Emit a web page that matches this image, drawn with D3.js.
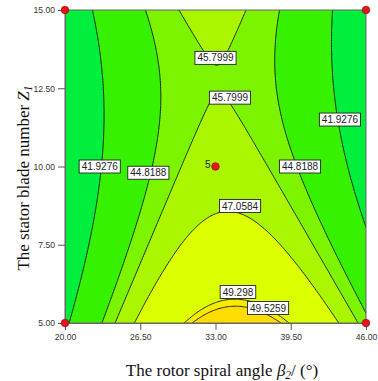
<!DOCTYPE html>
<html><head><meta charset="utf-8">
<script src="https://cdn.jsdelivr.net/npm/d3@7"></script>
<style>body{margin:0;background:#fff}</style>
</head><body><svg id="c" width="378" height="381"></svg>
<script>
// ---- data ----
const xTicks = [20, 26.5, 33, 39.5, 46];
const yTicks = [5, 7.5, 10, 12.5, 15];
// quadratic response-surface model in coded units (A = rotor angle, B = blade number)
const coefTerms = ["1", "A", "B", "AB", "A2", "B2"];
const coefValues = [46.32, 0.792, -1.922, -1.056, -6.6, 1.727];
const levels = [41.9276, 44.8188, 45.7999, 47.0584, 49.298, 49.5259];
const bandColors = ["#00ee3c", "#36f200", "#7cf400", "#aaf600", "#dcff00", "#f6ea00", "#ffdc00"];
const labelLevels = [41.9276, 41.9276, 44.8188, 44.8188, 45.7999, 45.7999, 47.0584, 49.298, 49.5259];
const labelX = [23.0, 43.75, 27.2, 40.3, 33.0, 34.25, 35.12, 34.94, 37.54];
const labelY = [10.0, 11.5, 9.8, 10.0, 13.47, 12.2, 8.74, 5.99, 5.48];
const designX = [20, 20, 46, 46, 33];
const designY = [5, 15, 5, 15, 10];
const designLabel = ["", "", "", "", "5"];

// ---- layout ----
const svg = d3.select("#c");
const L = 65, R = 366, T = 10, B = 323;
const x = d3.scaleLinear([20, 46], [L, R]);
const y = d3.scaleLinear([5, 15], [B, T]);

function model(xv, yv) {
  const a = (xv - 33) / 13, b = (yv - 10) / 5;
  const terms = [1, a, b, a * b, a * a, b * b];
  return d3.sum(terms, (t, i) => t * coefValues[i]);
}

const x0 = 19, x1 = 47, y0 = 4.7, y1 = 15.3;
const nx = 281, ny = 213;
const dx = (x1 - x0) / (nx - 1), dy = (y1 - y0) / (ny - 1);
const values = new Array(nx * ny);
for (let j = 0; j < ny; j++) for (let i = 0; i < nx; i++)
  values[j * nx + i] = model(x0 + i * dx, y0 + j * dy);

const contours = d3.contours().size([nx, ny]).thresholds(levels)(values);
const proj = d3.geoTransform({
  point(px, py) { this.stream.point(x(x0 + (px - 0.5) * dx), y(y0 + (py - 0.5) * dy)); }
});
const path = d3.geoPath(proj);

svg.append("defs").append("clipPath").attr("id", "clip")
  .append("rect").attr("x", L).attr("y", T).attr("width", R - L).attr("height", B - T);

const plot = svg.append("g").attr("clip-path", "url(#clip)");
plot.append("rect").attr("x", L).attr("y", T).attr("width", R - L).attr("height", B - T)
  .attr("fill", bandColors[0]);
plot.selectAll("path.band").data(contours).join("path").attr("class", "band")
  .attr("d", path).attr("fill", (d, i) => bandColors[i + 1]).attr("stroke", "none");
plot.selectAll("path.line").data(contours).join("path").attr("class", "line")
  .attr("d", path).attr("fill", "none").attr("stroke", "#111").attr("stroke-width", 0.9);

// frame
svg.append("rect").attr("x", L).attr("y", T).attr("width", R - L).attr("height", B - T)
  .attr("fill", "none").attr("stroke", "#666").attr("stroke-width", 1);

// axes
const fmt = d3.format(".2f");
const gx = svg.append("g").attr("transform", `translate(0,${B})`)
  .call(d3.axisBottom(x).tickValues(xTicks).tickFormat(fmt).tickSize(7).tickSizeOuter(0).tickPadding(4));
const gy = svg.append("g").attr("transform", `translate(${L},0)`)
  .call(d3.axisLeft(y).tickValues(yTicks).tickFormat(fmt).tickSize(7).tickSizeOuter(0).tickPadding(3));
[gx, gy].forEach(g => {
  g.selectAll("text").attr("font-family", "Arial, 'Liberation Sans', sans-serif")
    .attr("font-size", 8.6).attr("fill", "#333");
  g.selectAll("line").attr("stroke", "#555");
  g.select(".domain").attr("stroke", "#666");
});

// contour labels
const lab = svg.append("g").attr("font-family", "Arial, 'Liberation Sans', sans-serif").attr("font-size", 10);
labelLevels.forEach((v, i) => {
  const g = lab.append("g").attr("transform", `translate(${x(labelX[i])},${y(labelY[i])})`);
  const r = g.append("rect");
  const t = g.append("text").text(String(v)).attr("text-anchor", "middle").attr("dy", "0.36em").attr("fill", "#222");
  const w = t.node().getComputedTextLength();
  r.attr("x", -w / 2 - 2.5).attr("y", -6.5).attr("width", w + 5).attr("height", 13)
    .attr("fill", "#fff").attr("stroke", "#222").attr("stroke-width", 0.9);
});

// design points
const pts = svg.append("g");
designX.forEach((dv, i) => {
  pts.append("circle").attr("cx", x(dv)).attr("cy", y(designY[i])).attr("r", 3.8)
    .attr("fill", "#e8141b").attr("stroke", "#8a0000").attr("stroke-width", 0.6);
  if (designLabel[i]) pts.append("text").attr("x", x(dv) - 5).attr("y", y(designY[i]) + 1)
    .attr("text-anchor", "end").attr("font-family", "Arial, sans-serif").attr("font-size", 10)
    .attr("fill", "#222").text(designLabel[i]);
});

// axis titles
const xt = svg.append("text").attr("x", 222).attr("y", 376).attr("text-anchor", "middle")
  .attr("font-family", "'Liberation Serif', 'Times New Roman', serif").attr("font-size", 17).attr("fill", "#111");
xt.append("tspan").text("The rotor spiral angle ");
xt.append("tspan").attr("font-style", "italic").text("β");
xt.append("tspan").attr("font-size", 11.5).attr("dy", 3).attr("font-style", "italic").text("2");
xt.append("tspan").attr("dy", -3).text("/ (°)");

const yt = svg.append("text").attr("transform", `translate(29,178) rotate(-90)`)
  .attr("text-anchor", "middle")
  .attr("font-family", "'Liberation Serif', 'Times New Roman', serif").attr("font-size", 17).attr("fill", "#111");
yt.append("tspan").text("The stator blade number ");
yt.append("tspan").attr("font-style", "italic").text("Z");
yt.append("tspan").attr("font-size", 11.5).attr("dy", 3).attr("font-style", "italic").text("1");
</script></body></html>
